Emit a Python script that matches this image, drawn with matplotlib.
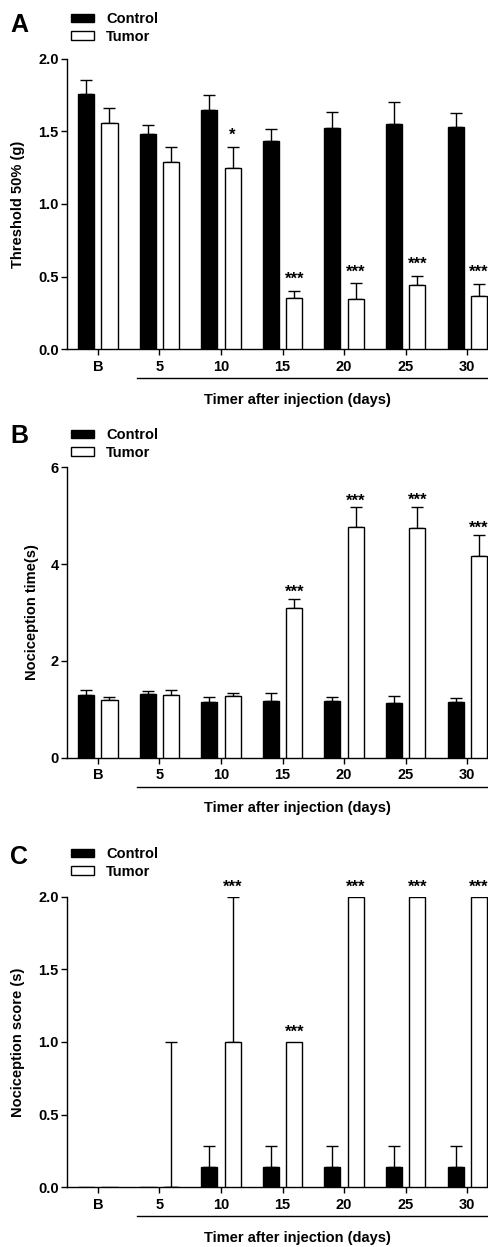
import numpy as np
import matplotlib
matplotlib.use("Agg")
import matplotlib.pyplot as plt
from matplotlib.patches import Patch
from matplotlib.transforms import blended_transform_factory

plt.rcParams['font.family'] = ['Liberation Sans', 'DejaVu Sans']
plt.rcParams['font.weight'] = 'bold'

days = ["B", "5", "10", "15", "20", "25", "30"]

# panel A - mechanical threshold
A_control = [1.76, 1.48, 1.65, 1.43, 1.52, 1.55, 1.53]
A_control_err = [0.095, 0.062, 0.103, 0.083, 0.115, 0.149, 0.097]
A_tumor = [1.56, 1.29, 1.25, 0.35, 0.345, 0.44, 0.365]
A_tumor_err = [0.103, 0.101, 0.142, 0.053, 0.108, 0.066, 0.085]
A_stars = ["", "", "*", "***", "***", "***", "***"]

# panel B - nociception time
B_control = [1.30, 1.32, 1.16, 1.17, 1.18, 1.14, 1.16]
B_control_err = [0.10, 0.055, 0.09, 0.16, 0.076, 0.14, 0.076]
B_tumor = [1.20, 1.30, 1.27, 3.10, 4.76, 4.74, 4.16]
B_tumor_err = [0.05, 0.10, 0.076, 0.19, 0.41, 0.45, 0.45]
B_stars = ["", "", "", "***", "***", "***", "***"]

# panel C - nociception score
C_control = [0, 0, 0.14, 0.14, 0.14, 0.14, 0.14]
C_control_err = [0, 0, 0.147, 0.147, 0.147, 0.147, 0.147]
C_tumor = [0, 0, 1.0, 1.0, 2.0, 2.0, 2.0]
C_tumor_err = [0, 1.0, 1.0, 0, 0, 0, 0]
C_stars = ["", "", "***", "***", "***", "***", "***"]

W, H = 489, 1247
fig = plt.figure(figsize=(W / 100, H / 100), dpi=100)

x = np.arange(len(days))
off = 0.19
bw = 0.26


def panel(top_px, ctrl, ctrl_err, tum, tum_err, stars, ylim, yticks, yfmt,
          ylabel, ylab_px, leg_top_px, letter, letter_px, star_off):
    bot_px = top_px + 290.5
    ax = fig.add_axes([67 / W, 1 - bot_px / H, (W - 67) / W, 290.5 / H])
    ctrl = np.array(ctrl); tum = np.array(tum)
    ctrl_err = np.array(ctrl_err); tum_err = np.array(tum_err)
    ax.bar(x - off, ctrl, bw, color='black', edgecolor='black', lw=1, zorder=3)
    ax.bar(x + off, tum, bw, color='white', edgecolor='black', lw=1, zorder=3)
    for xs, v, e in [(x - off, ctrl, ctrl_err), (x + off, tum, tum_err)]:
        m = e > 0
        ax.errorbar(xs[m], v[m], yerr=[np.zeros(m.sum()), e[m]], fmt='none',
                    ecolor='black', elinewidth=1, capsize=4, capthick=1, zorder=2)
    for i, s in enumerate(stars):
        if s:
            ax.annotate(s, (x[i] + off, tum[i] + tum_err[i]), xytext=(0, star_off),
                        textcoords='offset points', ha='center', va='baseline',
                        fontsize=12, fontweight='bold', annotation_clip=False)
    ax.set_xlim(-0.5, (W - 97.7) / 61.6)
    ax.set_ylim(*ylim)
    ax.set_xticks(x, days)
    ax.set_yticks(yticks, [yfmt.format(t) for t in yticks])
    for sp in ['top', 'right']:
        ax.spines[sp].set_visible(False)
    for sp in ['left', 'bottom']:
        ax.spines[sp].set_linewidth(1)
    ax.tick_params(axis='x', labelsize=10.5, length=4.5, width=1, pad=3)
    ax.tick_params(axis='y', labelsize=10.5, length=4.5, width=1, pad=1.5)
    for lab in ax.get_xticklabels() + ax.get_yticklabels():
        lab.set_fontweight('bold')
    tr = blended_transform_factory(ax.transData, ax.transAxes)
    ax.plot([0.64, 7], [-0.099, -0.099], color='black', lw=1, transform=tr, clip_on=False)
    ax.text(3.235, -0.174, "Timer after injection (days)", transform=tr, ha='center',
            va='center', fontsize=10.5, fontweight='bold')
    ax.text((ylab_px - 67) / (W - 67), 0.5, ylabel, transform=ax.transAxes, rotation=90,
            ha='center', va='center', fontsize=10.5, fontweight='bold')
    handles = [Patch(facecolor='black', edgecolor='black', label='Control'),
               Patch(facecolor='white', edgecolor='black', label='Tumor')]
    ax.legend(handles=handles, loc='upper left',
              bbox_to_anchor=(71 / W, 1 - leg_top_px / H), bbox_transform=fig.transFigure,
              frameon=False, borderpad=0, borderaxespad=0, handlelength=1.6,
              handleheight=0.5, handletextpad=0.8, labelspacing=0.25,
              prop={'size': 10.5, 'weight': 'bold'})
    fig.text(letter_px[0] / W, 1 - letter_px[1] / H, letter, ha='center', va='center',
             fontsize=18, fontweight='bold')
    return ax


panel(58.7, A_control, A_control_err, A_tumor, A_tumor_err, A_stars, (0, 2.0),
      [0, 0.5, 1.0, 1.5, 2.0], "{:.1f}", "Threshold 50% (g)", 18, 12, "A", (19, 25), 5)
panel(467.3, B_control, B_control_err, B_tumor, B_tumor_err, B_stars, (0, 6),
      [0, 2, 4, 6], "{:.0f}", "Nociception time(s)", 31.7, 428, "B", (19.5, 436), 1.5)
panel(896.7, C_control, C_control_err, C_tumor, C_tumor_err, C_stars, (0, 2.0),
      [0, 0.5, 1.0, 1.5, 2.0], "{:.1f}", "Nociception score (s)", 18, 847, "C", (19.5, 857), 3.5)

fig.savefig("out.png", dpi=100)
